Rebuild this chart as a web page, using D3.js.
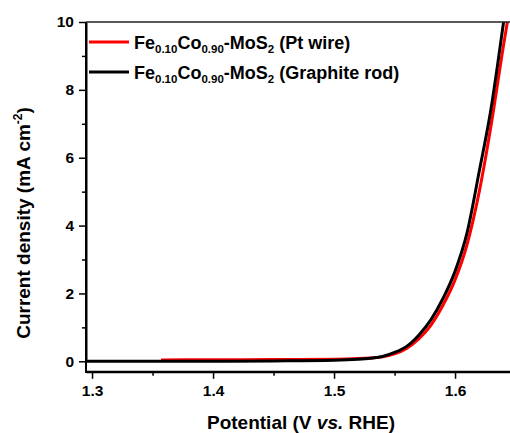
<!DOCTYPE html>
<html>
<head>
<meta charset="utf-8">
<script src="https://cdn.jsdelivr.net/npm/d3@7"></script>
<style>
  body { margin: 0; background: #fff; }
  text { font-family: "Liberation Sans", Arial, sans-serif; font-weight: bold; fill: #000; }
</style>
</head>
<body>
<div id="chart"></div>
<script>
// LSV data (potential in V vs RHE, current density in mA cm-2)
const blackV = [1.295, 1.35, 1.40, 1.45, 1.50, 1.52, 1.53, 1.54, 1.55, 1.56, 1.57, 1.58, 1.59, 1.60, 1.61, 1.62, 1.63, 1.635, 1.6405];
const blackJ = [0.0, 0.0, 0.0, 0.01, 0.03, 0.06, 0.09, 0.14, 0.26, 0.44, 0.77, 1.22, 1.85, 2.65, 3.8, 5.6, 7.5, 8.7, 10.1];
const redV = [1.357, 1.40, 1.45, 1.50, 1.52, 1.53, 1.54, 1.55, 1.56, 1.57, 1.58, 1.59, 1.60, 1.61, 1.62, 1.63, 1.64, 1.6437];
const redJ = [0.04, 0.045, 0.05, 0.06, 0.08, 0.1, 0.13, 0.22, 0.38, 0.66, 1.06, 1.65, 2.4, 3.45, 5.0, 7.0, 9.3, 10.1];
const xTicks = [1.3, 1.4, 1.5, 1.6];
const yTicks = [0, 2, 4, 6, 8, 10];
const legendNames = [
  {sub: [["Fe", 0], ["0.10", 1], ["Co", 0], ["0.90", 1], ["-MoS", 0], ["2", 1], [" (Pt wire)", 0]], color: "#ff0000"},
  {sub: [["Fe", 0], ["0.10", 1], ["Co", 0], ["0.90", 1], ["-MoS", 0], ["2", 1], [" (Graphite rod)", 0]], color: "#000000"}
];

let margin = {top: 22, left: 86},
  W = 510, H = 433;

const svg = d3.select("#chart")
  .append("svg")
    .attr("width", W)
    .attr("height", H);

// scales: left edge of frame at 1.295, frame runs off the right side
let x = d3.scaleLinear()
  .domain([1.295, 1.65])
  .range([margin.left, margin.left + 0.355 * 1210]);

let y = d3.scaleLinear()
  .domain([0, 10])
  .range([361.3, 22]);

const yBottom = y(-0.31);

// clip the curves to the frame
svg.append("clipPath").attr("id", "clip")
  .append("rect")
    .attr("x", x(1.295)).attr("y", y(10))
    .attr("width", x(1.65) - x(1.295)).attr("height", yBottom - y(10));

let line = d3.line()
  .x(d => x(d[0]))
  .y(d => y(d[1]))
  .curve(d3.curveMonotoneX);

const series = [
  {v: redV, j: redJ, color: "#ff0000"},
  {v: blackV, j: blackJ, color: "#000000"}
];

svg.append("g").attr("clip-path", "url(#clip)")
  .selectAll("path")
  .data(series)
  .enter()
  .append("path")
    .attr("d", d => line(d.v.map((v, i) => [v, d.j[i]])))
    .attr("fill", "none")
    .attr("stroke", d => d.color)
    .attr("stroke-width", 3);

// bottom axis
const xAxis = svg.append("g")
  .attr("transform", "translate(0," + yBottom + ")")
  .call(d3.axisBottom(x).tickValues(xTicks).tickFormat(d3.format(".1f")).tickSize(7).tickPadding(6).tickSizeOuter(0));
xAxis.append("g")
  .call(d3.axisBottom(x).tickValues([1.35, 1.45, 1.55]).tickFormat("").tickSize(4).tickSizeOuter(0));

// left axis
const yAxis = svg.append("g")
  .attr("transform", "translate(" + margin.left + ",0)")
  .call(d3.axisLeft(y).tickValues(yTicks).tickSize(7).tickPadding(5).tickSizeOuter(0));
yAxis.append("g")
  .call(d3.axisLeft(y).tickValues([1, 3, 5, 7, 9]).tickFormat("").tickSize(4).tickSizeOuter(0));

svg.selectAll(".domain").attr("stroke", "#000").attr("stroke-width", 2);
svg.selectAll(".tick line").attr("stroke", "#000").attr("stroke-width", 1.5);
svg.selectAll(".tick text").style("font-size", "15.5px").style("font-family", "Liberation Sans, Arial, sans-serif").style("font-weight", "bold");

// extend domains to the corner
xAxis.select(".domain").attr("d", "M" + (margin.left - 1) + ",0H" + W);
yAxis.select(".domain").attr("d", "M0," + y(10) + "V" + (yBottom + 1));

// top border
svg.append("line")
  .attr("x1", margin.left).attr("x2", W)
  .attr("y1", y(10)).attr("y2", y(10))
  .attr("stroke", "#222").attr("stroke-width", 1.5);

// axis titles
const xt = svg.append("text")
  .attr("x", 301).attr("y", 429)
  .attr("text-anchor", "middle")
  .style("font-size", "19px");
xt.append("tspan").text("Potential (V ");
xt.append("tspan").style("font-style", "italic").text("vs.");
xt.append("tspan").text(" RHE)");

const yt = svg.append("text")
  .attr("transform", "translate(30,223)rotate(-90)")
  .attr("text-anchor", "middle")
  .style("font-size", "19px");
yt.append("tspan").text("Current density (mA cm");
yt.append("tspan").attr("dy", -8).style("font-size", "12px").text("-2");
yt.append("tspan").attr("dy", 8).text(")");

// legend
const legend = svg.selectAll(".leg")
  .data(legendNames)
  .enter()
  .append("g")
    .attr("class", "leg")
    .attr("transform", (d, i) => "translate(89," + (42 + i * 30) + ")");

legend.append("line")
  .attr("x1", 0).attr("x2", 40)
  .attr("stroke", d => d.color)
  .attr("stroke-width", 3);

legend.append("text")
  .attr("x", 45).attr("y", 6.5)
  .style("font-size", "18px")
  .each(function(d) {
    let t = d3.select(this);
    let prev = 0;
    d.sub.forEach(function(s) {
      let dy = (s[1] ? 4.5 : 0) - (prev ? 4.5 : 0);
      t.append("tspan")
        .attr("dy", dy)
        .style("font-size", s[1] ? "11.5px" : "18px")
        .text(s[0]);
      prev = s[1];
    });
  });
</script>
</body>
</html>
